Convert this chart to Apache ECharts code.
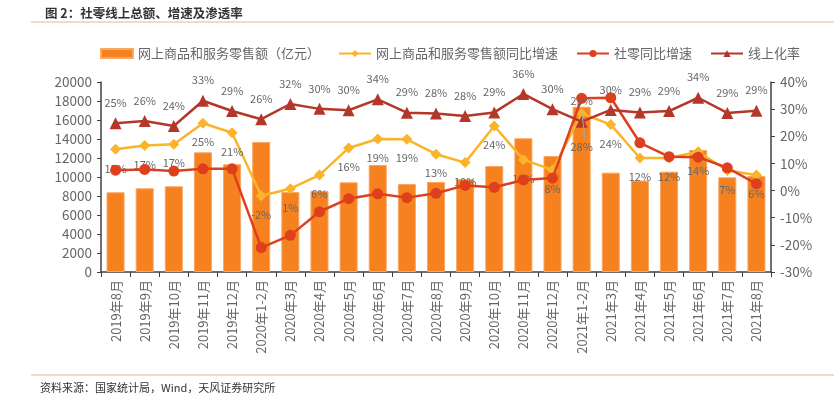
<!DOCTYPE html>
<html>
<head>
<meta charset="utf-8">
<script src="https://cdn.jsdelivr.net/npm/echarts@6/dist/echarts.min.js"></script>
<style>
  html, body { margin: 0; padding: 0; background: #fff; }
  #chart { width: 834px; height: 399px; }
</style>
</head>
<body>
<div id="chart"></div>
<script>
  // 横轴月份
  var months = ['2019年8月', '2019年9月', '2019年10月', '2019年11月', '2019年12月',
    '2020年1-2月', '2020年3月', '2020年4月', '2020年5月', '2020年6月', '2020年7月',
    '2020年8月', '2020年9月', '2020年10月', '2020年11月', '2020年12月',
    '2021年1-2月', '2021年3月', '2021年4月', '2021年5月', '2021年6月', '2021年7月', '2021年8月'];
  // 网上商品和服务零售额（亿元）
  var onlineSales = [8390, 8810, 9020, 12600, 11340, 13690, 8420, 8530, 9440, 11270, 9270,
    9480, 9760, 11160, 14080, 12210, 17400, 10460, 9620, 10560, 12850, 9970, 10110];
  // 网上商品和服务零售额同比增速（%）
  var onlineYoy = [15.2, 16.6, 17.1, 24.8, 21.3, -1.9, 0.7, 5.7, 15.7, 19.0, 18.9,
    13.4, 10.3, 23.8, 11.4, 7.6, 28.4, 24.3, 12.0, 12.0, 14.3, 7.4, 5.7];
  // 社零同比增速（%）
  var retailYoy = [7.5, 7.8, 7.2, 8.0, 8.0, -21.0, -16.5, -7.8, -3.0, -1.2, -2.6,
    -1.0, 1.9, 1.2, 3.9, 4.6, 34.0, 34.2, 17.6, 12.5, 12.3, 8.4, 2.5];
  // 线上化率（%）
  var onlineRate = [24.8, 25.6, 23.8, 33.1, 29.3, 26.3, 31.9, 30.1, 29.6, 33.6, 28.7,
    28.4, 27.5, 28.8, 35.6, 30.0, 25.4, 29.7, 28.8, 29.3, 34.2, 28.6, 29.4];

  var gray = '#666666';
  var font = '"Noto Sans CJK SC", "Noto Sans", sans-serif';

  var myChart = echarts.init(document.getElementById('chart'));

  // 2021年1-2月的增速标签放得更低，带引线
  var yoyData = onlineYoy.map(function (v, i) {
    if (i === 16) {
      return {
        value: v,
        label: { offset: [0, 14] }
      };
    }
    return v;
  });

  var option = {
    textStyle: { fontFamily: font },
    animation: false,
    title: {
      text: '图 2：社零线上总额、增速及渗透率',
      left: 40,
      top: 2,
      textStyle: { fontSize: 12.5, fontWeight: 'bold', color: '#333', fontFamily: font }
    },
    graphic: [
      { type: 'line', shape: { x1: 31, y1: 22, x2: 834, y2: 22 }, style: { stroke: '#F6B27A', lineWidth: 1 } },
      { type: 'line', shape: { x1: 31, y1: 375, x2: 834, y2: 375 }, style: { stroke: '#F6B27A', lineWidth: 1 } },
      // 引线
      { type: 'line', shape: { x1: 582, y1: 114, x2: 585, y2: 139 }, style: { stroke: '#A6A6A6', lineWidth: 1 }, z: 10 },
      {
        type: 'text', left: 40, top: 382,
        style: { text: '资料来源：国家统计局，Wind，天风证券研究所', fontSize: 11, fill: '#333', fontFamily: font }
      }
    ],
    legend: {
      top: 42,
      left: 95,
      itemGap: 18,
      itemWidth: 32,
      itemHeight: 9,
      textStyle: { fontSize: 13, color: gray, fontFamily: font },
      data: [
        { name: '网上商品和服务零售额（亿元）', icon: 'rect', itemStyle: { color: '#F5821F' } },
        { name: '网上商品和服务零售额同比增速' },
        { name: '社零同比增速' },
        { name: '线上化率' }
      ]
    },
    grid: { left: 101, right: 63, top: 82, bottom: 127 },
    xAxis: {
      type: 'category',
      data: months,
      axisLine: { lineStyle: { color: '#404040', width: 1.5 } },
      axisTick: { show: true, alignWithLabel: false, lineStyle: { color: '#404040' } },
      axisLabel: { rotate: 90, color: gray, fontSize: 13, interval: 0, margin: 8 }
    },
    yAxis: [{
      type: 'value',
      min: 0,
      max: 20000,
      interval: 2000,
      axisLine: { show: true, lineStyle: { color: '#404040', width: 1.5 } },
      axisTick: { show: true, length: 4, inside: false, lineStyle: { color: '#404040' } },
      axisLabel: { color: gray, fontSize: 13.5, margin: 9, formatter: function (v) { return String(v); } },
      splitLine: { show: false }
    }, {
      type: 'value',
      min: -30,
      max: 40,
      interval: 10,
      axisLine: { show: true, lineStyle: { color: '#404040', width: 1.5 } },
      axisTick: { show: true, length: 4, lineStyle: { color: '#404040' } },
      axisLabel: { color: gray, fontSize: 13.5, margin: 9, formatter: '{value}%' },
      splitLine: { show: false }
    }],
    series: [{
      name: '网上商品和服务零售额（亿元）',
      type: 'bar',
      data: onlineSales,
      barWidth: '62%',
      itemStyle: { color: '#F5821F', borderColor: '#F8A868', borderWidth: 1 },
      z: 1
    }, {
      name: '网上商品和服务零售额同比增速',
      type: 'line',
      yAxisIndex: 1,
      data: yoyData,
      symbol: 'diamond',
      symbolSize: 11,
      lineStyle: { color: '#FBB42A', width: 2.5 },
      itemStyle: { color: '#FBB42A' },
      label: {
        show: true,
        position: 'bottom',
        distance: 8,
        color: gray,
        fontSize: 11,
        formatter: function (p) { return Math.round(p.value) + '%'; }
      },
      z: 3
    }, {
      name: '社零同比增速',
      type: 'line',
      yAxisIndex: 1,
      data: retailYoy,
      symbol: 'circle',
      symbolSize: 11,
      lineStyle: { color: '#DE3F1C', width: 2.5 },
      itemStyle: { color: '#DE3F1C' },
      z: 4
    }, {
      name: '线上化率',
      type: 'line',
      yAxisIndex: 1,
      data: onlineRate,
      symbol: 'triangle',
      symbolSize: 12,
      lineStyle: { color: '#B3382A', width: 2.5 },
      itemStyle: { color: '#B3382A' },
      label: {
        show: true,
        position: 'top',
        distance: 9,
        color: gray,
        fontSize: 11,
        formatter: function (p) { return Math.round(p.value) + '%'; }
      },
      z: 5
    }]
  };

  myChart.setOption(option);
</script>
</body>
</html>
